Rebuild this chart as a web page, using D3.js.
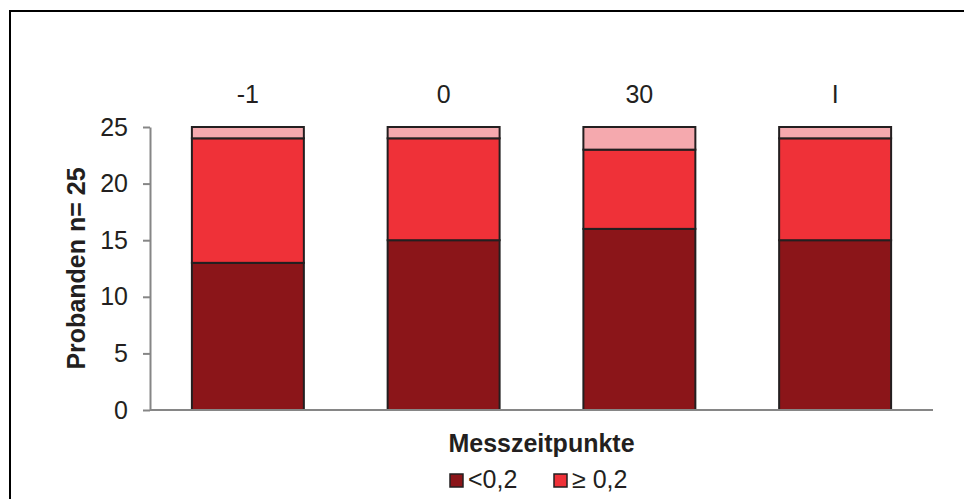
<!DOCTYPE html>
<html>
<head>
<meta charset="utf-8">
<script src="https://cdn.jsdelivr.net/npm/d3@7"></script>
<style>
  html, body { margin: 0; padding: 0; background: #fff; }
  svg { display: block; font-family: "Liberation Sans", Arial, sans-serif; }
</style>
</head>
<body>
<svg id="chart" width="964" height="499"></svg>
<script>
// Messzeitpunkte und Probandenzahlen je Gruppe
const categories = ["-1", "0", "30", "I"];
const lowValues = [13, 15, 16, 15];      // <0,2
const highValues = [11, 9, 7, 9];        // ≥ 0,2
const restValues = [1, 1, 2, 1];         // übrige Probanden
const yTicks = [0, 5, 10, 15, 20, 25];
const seriesNames = ["<0,2", "≥ 0,2", ""];

const colors = ["#8b1519", "#ef3138", "#f5a9ae"];
const stroke = "#231f20";
const axisColor = "#868686";

const svg = d3.select("#chart");

// Rahmen
svg.append("rect")
  .attr("x", 10).attr("y", 11)
  .attr("width", 1000).attr("height", 600)
  .attr("fill", "none")
  .attr("stroke", "#000")
  .attr("stroke-width", 2);

const plotLeft = 150, plotRight = 933, plotTop = 127, plotBottom = 410;

const x = d3.scaleBand()
  .domain(categories)
  .range([plotLeft, plotRight])
  .paddingInner(0.428)
  .paddingOuter(0.214);

const y = d3.scaleLinear().domain([0, 25]).range([plotBottom, plotTop]);

// Stapeldaten
const rows = categories.map((c, i) => ({ cat: c, low: lowValues[i], high: highValues[i], rest: restValues[i] }));
const stack = d3.stack().keys(["low", "high", "rest"]);
const layers = stack(rows);

layers.forEach((layer, li) => {
  svg.append("g").selectAll("rect")
    .data(layer)
    .join("rect")
    .attr("x", d => x(d.data.cat))
    .attr("y", d => y(d[1]))
    .attr("width", x.bandwidth())
    .attr("height", d => y(d[0]) - y(d[1]))
    .attr("fill", colors[li])
    .attr("stroke", stroke)
    .attr("stroke-width", 2);
});

// Y-Achse
const yAxis = svg.append("g")
  .attr("transform", `translate(${plotLeft},0)`)
  .call(d3.axisLeft(y).tickValues(yTicks).tickSize(7).tickPadding(15).tickSizeOuter(0));
yAxis.select(".domain").attr("stroke", axisColor).attr("stroke-width", 2);
yAxis.selectAll(".tick line").attr("stroke", axisColor).attr("stroke-width", 2);
yAxis.selectAll(".tick text")
  .attr("fill", "#231f20")
  .style("font-size", "25px")
  .style("font-family", "'Liberation Sans', Arial, sans-serif");

// X-Grundlinie
svg.append("line")
  .attr("x1", plotLeft).attr("x2", plotRight)
  .attr("y1", y(0)).attr("y2", y(0))
  .attr("stroke", axisColor)
  .attr("stroke-width", 2);

// Kategorien oben
const xAxis = svg.append("g")
  .attr("transform", `translate(0,${plotTop})`)
  .call(d3.axisTop(x).tickSize(0).tickPadding(24));
xAxis.select(".domain").remove();
xAxis.selectAll(".tick text")
  .attr("fill", "#231f20")
  .style("font-size", "25px")
  .style("font-family", "'Liberation Sans', Arial, sans-serif");

// Achsentitel
svg.append("text")
  .attr("x", (plotLeft + plotRight) / 2)
  .attr("y", 452)
  .attr("text-anchor", "middle")
  .attr("font-size", 25)
  .attr("font-weight", "bold")
  .attr("fill", "#231f20")
  .text("Messzeitpunkte");

svg.append("text")
  .attr("transform", `translate(85,${(plotTop + plotBottom) / 2}) rotate(-90)`)
  .attr("text-anchor", "middle")
  .attr("font-size", 25)
  .attr("font-weight", "bold")
  .attr("fill", "#231f20")
  .text("Probanden n= 25");

// Legende
const legendItems = [
  { name: seriesNames[0], color: colors[0], x: 450 },
  { name: seriesNames[1], color: colors[1], x: 554 }
];
const legend = svg.append("g").selectAll("g")
  .data(legendItems)
  .join("g")
  .attr("transform", d => `translate(${d.x},474)`);
legend.append("rect")
  .attr("width", 13).attr("height", 13)
  .attr("fill", d => d.color)
  .attr("stroke", stroke)
  .attr("stroke-width", 1.5);
legend.append("text")
  .attr("x", 18)
  .attr("y", 14)
  .attr("font-size", 25)
  .attr("fill", "#231f20")
  .text(d => d.name);
</script>
</body>
</html>
